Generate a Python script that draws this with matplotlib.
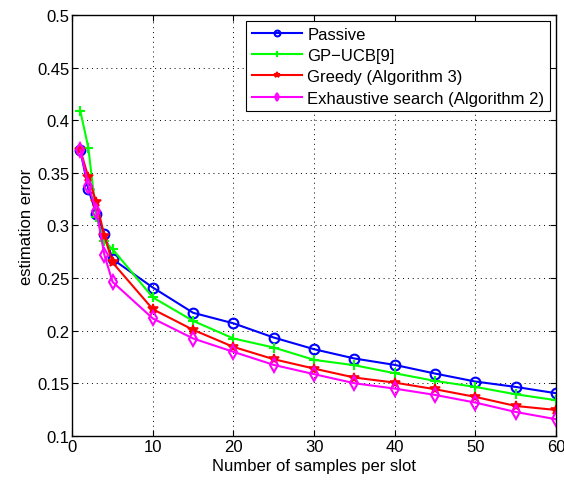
import matplotlib
matplotlib.use('Agg')
import matplotlib.pyplot as plt

# samples per slot
x = [1, 2, 3, 4, 5, 10, 15, 20, 25, 30, 35, 40, 45, 50, 55, 60]

passive = [0.372, 0.3345, 0.311, 0.2915, 0.268, 0.241, 0.217, 0.207, 0.1935, 0.1824,
           0.1736, 0.1675, 0.1593, 0.1517, 0.1466, 0.1406]
gp_ucb = [0.409, 0.374, 0.308, 0.285, 0.2775, 0.2316, 0.2093, 0.1926, 0.184, 0.1723,
          0.1672, 0.1596, 0.1523, 0.1466, 0.1396, 0.134]
greedy = [0.372, 0.3457, 0.3218, 0.290, 0.2648, 0.2204, 0.2008, 0.1846, 0.1729, 0.164,
          0.1555, 0.1507, 0.1444, 0.1371, 0.1285, 0.1247]
exhaustive = [0.372, 0.3377, 0.3138, 0.2717, 0.2464, 0.2116, 0.1926, 0.1799, 0.1675, 0.1587,
              0.1501, 0.145, 0.139, 0.1317, 0.1228, 0.1159]

plt.rcParams['font.family'] = ['Liberation Sans', 'DejaVu Sans']
plt.rcParams['font.size'] = 12

fig = plt.figure(figsize=(5.64, 4.81), dpi=100)
ax = fig.add_axes([0.128, 0.0915, 0.858, 0.8755])

ax.plot(x, passive, color='#0000ff', marker='o', markersize=7, markerfacecolor='none',
        markeredgewidth=1.5, linewidth=1.5, label='Passive')
ax.plot(x, gp_ucb, color='#00ff00', marker='+', markersize=7, markeredgewidth=1.5,
        linewidth=1.5, label='GP\u2212UCB[9]')
ax.plot(x, greedy, color='#ff0000', marker='*', markersize=7, markeredgewidth=1.2,
        linewidth=1.5, label='Greedy (Algorithm 3)')
ax.plot(x, exhaustive, color='#ff00ff', marker='d', markersize=7, markerfacecolor='none',
        markeredgewidth=1.5, linewidth=1.5, label='Exhaustive search (Algorithm 2)')

ax.set_xlim(0, 60)
ax.set_ylim(0.1, 0.5)
ax.set_xticks(range(0, 61, 10))
ax.set_yticks([0.1, 0.15, 0.2, 0.25, 0.3, 0.35, 0.4, 0.45, 0.5])
ax.set_yticklabels(['0.1', '0.15', '0.2', '0.25', '0.3', '0.35', '0.4', '0.45', '0.5'])
ax.grid(True, linestyle=(0, (1, 4)), color='black', linewidth=0.7)
ax.tick_params(direction='in', top=True, right=True, length=4, pad=2)
for s in ax.spines.values():
    s.set_linewidth(1.0)

ax.set_xlabel('Number of samples per slot', labelpad=3)
ax.set_ylabel('estimation error', labelpad=2)

leg = ax.legend(loc='upper right', fancybox=False, framealpha=1, edgecolor='black',
                borderpad=0.35, labelspacing=0.38, handlelength=3.0, handletextpad=0.3,
                borderaxespad=0.35, markerscale=0.6, fontsize=12)
leg.get_frame().set_linewidth(0.8)

fig.savefig('out.png', dpi=100)
